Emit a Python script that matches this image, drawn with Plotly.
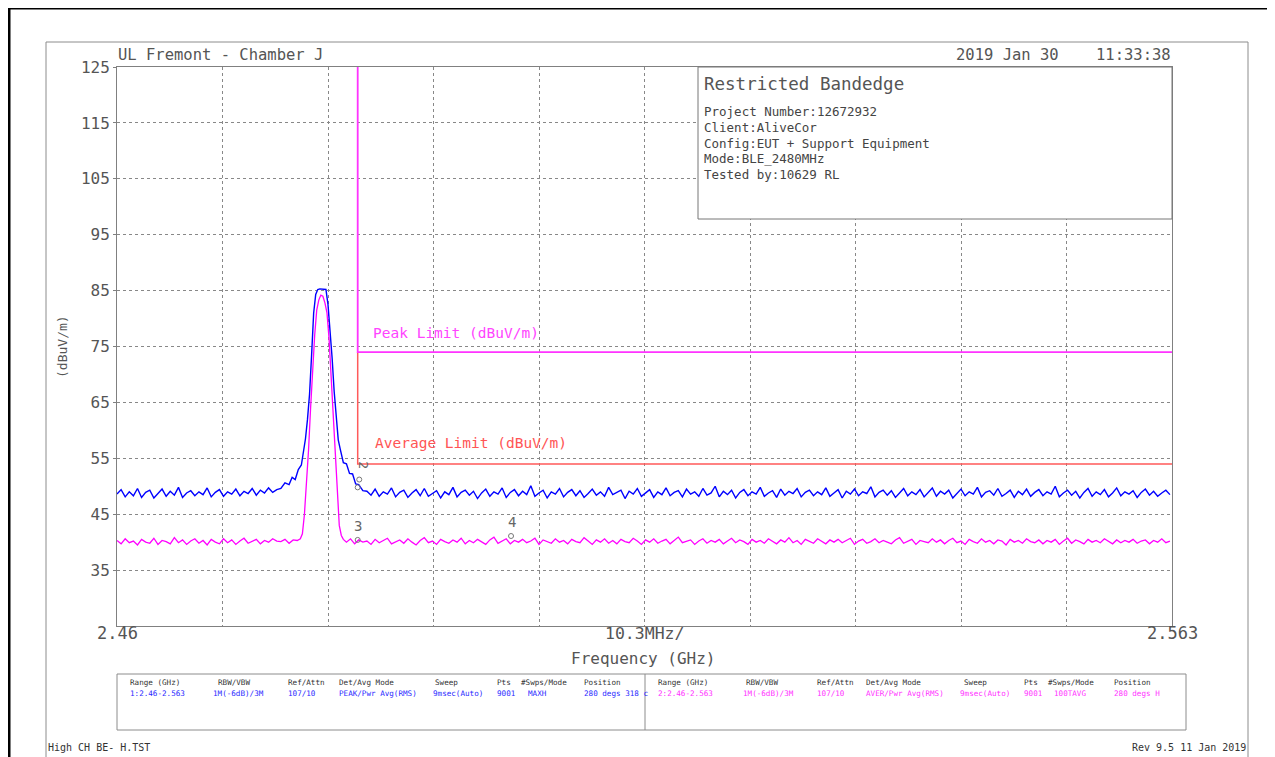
import plotly.graph_objects as go

# ---------------- data ----------------
grid_step = 0.0004
left_f = [round(2.46 + grid_step * k, 4) for k in range(40)]
right_f = [round(2.4844 + grid_step * k, 4) for k in range(197)]

blue_left = [48.6, 49.4, 48.1, 49.0, 48.3, 49.6, 48.0, 48.9, 49.3, 47.9,
             48.7, 49.5, 48.2, 49.1, 48.4, 49.8, 48.0, 48.8, 49.2, 48.3,
             49.0, 48.5, 49.7, 48.1, 48.9, 49.4, 48.2, 49.0, 48.6, 49.5,
             48.3, 49.1, 48.7, 49.6, 48.4, 49.3, 48.8, 49.7, 48.9, 49.4]
blue_peak_f = [2.4760, 2.4764, 2.4768, 2.4771, 2.4774, 2.4777, 2.4780, 2.4782,
               2.4784, 2.4786, 2.4788, 2.4790, 2.4792, 2.4794, 2.4796, 2.4798,
               2.4800, 2.4802, 2.4804, 2.4806, 2.4808, 2.4810, 2.4812, 2.4814,
               2.4816, 2.4818, 2.4821, 2.4824, 2.4827, 2.4830, 2.4833, 2.4836,
               2.4840]
blue_peak_v = [49.6, 50.6, 50.3, 51.6, 51.2, 53.0, 53.8, 55.9,
               58.5, 62.0, 66.5, 73.5, 81.0, 84.3, 85.2, 85.3,
               85.3, 85.3, 85.2, 82.5, 78.0, 73.0, 67.0, 62.5,
               58.3, 56.6, 54.2, 54.0, 52.3, 52.2, 50.4, 50.3,
               49.2]
blue_right = [49.1, 48.4, 49.5, 48.2, 49.0, 48.6, 49.7, 48.1, 48.9, 49.3,
              48.0, 48.8, 49.4, 48.3, 49.6, 48.2, 48.7, 49.2, 47.9, 49.0,
              48.5, 49.8, 48.1, 48.9, 49.3, 48.4, 49.1, 47.8, 48.8, 49.5,
              48.2, 49.0, 48.6, 49.7, 48.0, 48.9, 49.4, 48.3, 49.1, 48.5,
              50.1, 48.2, 48.8, 49.3, 47.9, 49.0, 48.6, 49.6, 48.1, 48.9,
              49.4, 48.3, 49.2, 48.0, 48.7, 49.5, 48.4, 49.0, 48.2, 49.8,
              48.5, 48.9, 49.3, 47.8, 49.1, 48.6, 49.6, 48.2, 48.8, 49.4,
              48.0, 49.0, 48.5, 49.7, 48.3, 48.9, 49.2, 48.1, 49.5, 48.6,
              49.0, 48.2, 49.6, 48.4, 48.8, 50.0, 48.1, 49.1, 48.5, 49.3,
              47.9, 48.9, 49.4, 48.3, 49.0, 48.6, 49.8, 48.2, 48.8, 49.2,
              48.0, 49.5, 48.4, 49.1, 48.7, 49.6, 48.1, 48.9, 49.3, 48.3,
              49.0, 48.5, 49.7, 48.2, 48.8, 49.4, 47.9, 49.1, 48.6, 49.5,
              48.3, 49.0, 48.7, 49.9, 48.1, 48.9, 49.3, 48.4, 49.2, 48.0,
              48.8, 49.6, 48.3, 49.0, 48.5, 49.4, 48.1, 48.9, 49.7, 48.2,
              49.1, 48.6, 49.3, 47.9, 48.8, 49.5, 48.3, 49.0, 48.6, 49.8,
              48.1, 48.9, 49.2, 48.4, 49.6, 48.2, 48.7, 49.3, 48.0, 49.1,
              48.5, 49.5, 48.2, 48.9, 49.4, 48.3, 49.0, 48.6, 50.0, 48.1,
              48.8, 49.3, 48.4, 49.1, 47.9, 48.9, 49.6, 48.2, 49.0, 48.5,
              49.4, 48.1, 48.8, 49.7, 48.3, 49.0, 48.6, 49.2, 48.0, 48.9,
              49.5, 48.4, 49.1, 48.2, 48.8, 49.3, 48.5]

mag_left = [40.3, 39.7, 40.6, 39.9, 40.2, 39.5, 40.5, 40.0, 39.8, 40.7,
            39.6, 40.3, 40.1, 39.7, 40.8, 39.9, 40.4, 39.6, 40.2, 40.6,
            39.8, 40.3, 39.5, 40.5, 40.0, 39.7, 40.6, 39.9, 40.4, 39.6,
            40.2, 40.7, 39.8, 40.1, 40.5, 39.7, 40.3, 40.0, 40.6, 40.2]
mag_peak_f = [2.4760, 2.4764, 2.4768, 2.4772, 2.4776, 2.4779, 2.4781, 2.4783,
              2.4785, 2.4787, 2.4789, 2.4791, 2.4793, 2.4795, 2.4797, 2.4799,
              2.4801, 2.4803, 2.4805, 2.4807, 2.4809, 2.4811, 2.4813, 2.4815,
              2.4817, 2.4819, 2.4821, 2.4824, 2.4828, 2.4832, 2.4836, 2.4840]
mag_peak_v = [40.1, 40.5, 39.8, 40.4, 40.3, 40.6, 41.5, 45.0,
              50.0, 56.5, 64.0, 71.0, 77.0, 81.5, 83.3, 84.2,
              84.0, 82.8, 81.0, 76.5, 69.5, 61.5, 54.5, 49.5,
              43.0, 41.2, 40.5, 40.0, 40.6, 39.7, 40.4, 40.0]
mag_right = [40.2, 39.6, 40.5, 39.9, 40.3, 40.7, 39.7, 40.1, 40.4, 39.8,
             40.6, 40.0, 39.5, 40.3, 40.8, 39.9, 40.2, 39.6, 40.5, 40.1,
             39.8, 40.4, 40.0, 40.7, 39.7, 40.3, 39.9, 40.5, 40.1, 39.6,
             40.4, 40.9, 39.8, 40.2, 40.6, 39.7, 40.3, 40.0, 40.5, 39.9,
             40.2, 40.7, 39.6, 40.4, 40.1, 39.8, 40.6, 40.0, 40.3, 39.7,
             40.5, 40.1, 39.9, 40.8, 40.2, 39.6, 40.4, 40.0, 40.6, 39.8,
             40.3, 39.7, 40.5, 40.1, 39.9, 40.7, 40.2, 39.6, 40.4, 40.0,
             40.6, 39.8, 40.2, 40.5, 39.7, 40.3, 40.9, 39.9, 40.1, 40.4,
             39.6, 40.2, 40.6, 39.8, 40.3, 40.0, 40.5, 39.7, 40.2, 40.7,
             39.9, 40.4, 40.1, 39.6, 40.5, 40.0, 40.3, 39.8, 40.6, 40.2,
             39.7, 40.4, 40.0, 40.8, 39.9, 40.3, 39.6, 40.5, 40.1, 39.8,
             40.6, 40.2, 39.7, 40.4, 40.0, 40.5, 39.9, 40.3, 40.7, 39.6,
             40.2, 40.5, 39.8, 40.1, 40.6, 39.9, 40.3, 40.0, 39.7, 40.4,
             40.8, 39.8, 40.2, 40.5, 39.6, 40.3, 40.1, 39.9, 40.6, 40.0,
             40.4, 39.7, 40.3, 40.7, 39.9, 40.2, 39.6, 40.5, 40.1, 39.8,
             40.6, 40.0, 40.3, 39.7, 40.4, 40.2, 39.5, 40.5, 40.0, 40.3,
             39.8, 40.6, 40.1, 39.9, 40.4, 39.7, 40.3, 40.0, 40.5, 39.6,
             40.2, 40.7, 39.8, 40.4, 40.1, 39.7, 40.5, 40.0, 40.3, 39.9,
             40.6, 40.1, 39.7, 40.4, 39.9, 40.3, 40.0, 40.5, 39.8, 40.2,
             40.4, 39.7, 40.3, 40.0, 40.6, 39.9, 40.2]

band_edge = 2.4835
peak_limit = 74
avg_limit = 54
x_min, x_max = 2.46, 2.563
y_min, y_max = 25, 125
y_ticks = [35, 45, 55, 65, 75, 85, 95, 105, 115, 125]

marker_f = [2.4835, 2.48365, 2.4835, 2.49847]
marker_v = [49.8, 51.2, 40.4, 41.1]
marker_lbl = ["1", "2", "3", "4"]

table_heads = ["Range (GHz)", "RBW/VBW", "Ref/Attn", "Det/Avg Mode", "Sweep", "Pts", "#Swps/Mode", "Position"]
table_row1 = ["1:2.46-2.563", "1M(-6dB)/3M", "107/10", "PEAK/Pwr Avg(RMS)", "9msec(Auto)", "9001", "MAXH", "280 degs 318 c"]
table_row2 = ["2:2.46-2.563", "1M(-6dB)/3M", "107/10", "AVER/Pwr Avg(RMS)", "9msec(Auto)", "9001", "100TAVG", "280 degs H"]

info_lines = ["Project Number:12672932", "Client:AliveCor", "Config:EUT + Support Equipment",
              "Mode:BLE_2480MHz", "Tested by:10629 RL"]

# ---------------- layout helpers ----------------
OFF = 8  # page body margin offset
W, H = 1275 - OFF, 757 - OFF
PL, PR, PT, PB = 117 - OFF, 1172 - OFF, 67 - OFF, 626 - OFF
FONT = "DejaVu Sans Mono"


def X(px):
    return (px - OFF - PL) / (PR - PL)


def Y(py):
    return (PB - (py - OFF)) / (PB - PT)


blue_f = left_f + blue_peak_f + right_f
blue_v = blue_left + blue_peak_v + blue_right
mag_f = left_f + mag_peak_f + right_f
mag_v = mag_left + mag_peak_v + mag_right

fig = go.Figure()
fig.add_trace(go.Scatter(x=blue_f, y=blue_v, mode="lines",
                         line=dict(color="#0000ff", width=1.4), hoverinfo="skip"))
fig.add_trace(go.Scatter(x=mag_f, y=mag_v, mode="lines",
                         line=dict(color="#ff00ff", width=1.3), hoverinfo="skip"))
fig.add_trace(go.Scatter(x=[band_edge, band_edge, x_max], y=[peak_limit, avg_limit, avg_limit],
                         mode="lines", line=dict(color="#ff5a5a", width=1.5), hoverinfo="skip"))
fig.add_trace(go.Scatter(x=[band_edge, band_edge, x_max], y=[y_max, peak_limit, peak_limit],
                         mode="lines", line=dict(color="#ff33ff", width=1.8), hoverinfo="skip"))
fig.add_trace(go.Scatter(x=marker_f, y=marker_v, mode="markers",
                         marker=dict(symbol="circle-open", size=5, color="#777777", line=dict(width=1)),
                         hoverinfo="skip"))

shapes = []
# outer black border (top and left)
shapes.append(dict(type="line", xref="paper", yref="paper", x0=X(9), x1=X(1290), y0=Y(8), y1=Y(8),
                   line=dict(color="black", width=3)))
shapes.append(dict(type="line", xref="paper", yref="paper", x0=X(9), x1=X(9), y0=Y(8), y1=Y(770),
                   line=dict(color="black", width=3)))
# grey inner frame
shapes.append(dict(type="rect", xref="paper", yref="paper", x0=X(46), x1=X(1248), y0=Y(42), y1=Y(790),
                   line=dict(color="#8c8c8c", width=1)))
# info box
shapes.append(dict(type="rect", xref="paper", yref="paper", x0=X(698), x1=X(1172), y0=Y(67), y1=Y(219),
                   line=dict(color="#777777", width=1), fillcolor="white", layer="above"))
# bottom table
shapes.append(dict(type="rect", xref="paper", yref="paper", x0=X(117), x1=X(1186), y0=Y(674), y1=Y(730),
                   line=dict(color="#8c8c8c", width=1)))
shapes.append(dict(type="line", xref="paper", yref="paper", x0=X(645), x1=X(645), y0=Y(674), y1=Y(730),
                   line=dict(color="#8c8c8c", width=1)))

ann = []


def txt(text, px, py, size, color="#555555", xanchor="left", yanchor="middle", angle=0):
    ann.append(dict(text=text, xref="paper", yref="paper", x=X(px), y=Y(py), showarrow=False,
                    xanchor=xanchor, yanchor=yanchor, textangle=angle,
                    font=dict(family=FONT, size=size, color=color)))


txt("UL Fremont - Chamber J", 116, 55, 15.5)
txt("2019 Jan 30    11:33:38", 1173, 55, 15.5, xanchor="right")
txt("Restricted Bandedge", 702, 84, 17.5)
for i, line in enumerate(info_lines):
    txt(line, 702, 112 + i * 15.5, 12.5, color="#444444")
txt("(dBuV/m)", 62, 347, 13, angle=-90, xanchor="center")
txt("2.46", 117, 633, 17, xanchor="center")
txt("10.3MHz/", 644, 633, 16.5, xanchor="center")
txt("2.563", 1172, 633, 17, xanchor="center")
txt("Frequency (GHz)", 643, 658, 16, xanchor="center")
txt("Peak Limit (dBuV/m)", 371, 333, 14.5, color="#ff44ff")
txt("Average Limit (dBuV/m)", 373, 443, 14.5, color="#ff5555")

head_x1 = [128, 216, 286, 337, 433, 495, 519, 582]
val_x1 = [128, 211, 286, 337, 431, 495, 526, 582]
head_x2 = [656, 744, 815, 864, 962, 1022, 1046, 1112]
val_x2 = [656, 741, 815, 864, 958, 1022, 1052, 1112]
TS = 7.6
for hx, vx, h, v in zip(head_x1, val_x1, table_heads, table_row1):
    txt(h, hx, 682, TS, color="#333333")
    txt(v, vx, 693, TS, color="#2a2aff")
for hx, vx, h, v in zip(head_x2, val_x2, table_heads, table_row2):
    txt(h, hx, 682, TS, color="#333333")
    txt(v, vx, 693, TS, color="#ff33ff")

txt("High CH BE- H.TST", 46, 748, 10, color="#333333")
txt("Rev 9.5 11 Jan 2019", 1248, 748, 10, color="#333333", xanchor="right")

# marker labels (data coordinates)
ann.append(dict(text="2", x=marker_f[1], y=marker_v[1], xref="x", yref="y", showarrow=False,
                xshift=4, yshift=14, textangle=90, font=dict(family=FONT, size=13, color="#666666")))
ann.append(dict(text="3", x=marker_f[2], y=marker_v[2], xref="x", yref="y", showarrow=False,
                yshift=14, font=dict(family=FONT, size=14, color="#666666")))
ann.append(dict(text="4", x=marker_f[3], y=marker_v[3], xref="x", yref="y", showarrow=False,
                xshift=1, yshift=14, font=dict(family=FONT, size=14, color="#666666")))

fig.update_layout(
    width=W, height=H,
    margin=dict(l=PL, r=W - PR, t=PT, b=H - PB),
    paper_bgcolor="white", plot_bgcolor="white",
    showlegend=False,
    shapes=shapes, annotations=ann,
    xaxis=dict(range=[x_min, x_max], tick0=x_min, dtick=0.0103, showticklabels=False,
               ticks="", showgrid=True, griddash="dot", gridcolor="#888888", gridwidth=1,
               showline=True, mirror=True, linecolor="#808080", linewidth=1, zeroline=False),
    yaxis=dict(range=[y_min, y_max], tickvals=y_ticks, ticks="outside", ticklen=3,
               tickcolor="#808080", showgrid=True, griddash="dot", gridcolor="#888888", gridwidth=1,
               showline=True, mirror=True, linecolor="#808080", linewidth=1, zeroline=False,
               tickfont=dict(family=FONT, size=16, color="#555555")),
)

fig.write_html("out.html")
